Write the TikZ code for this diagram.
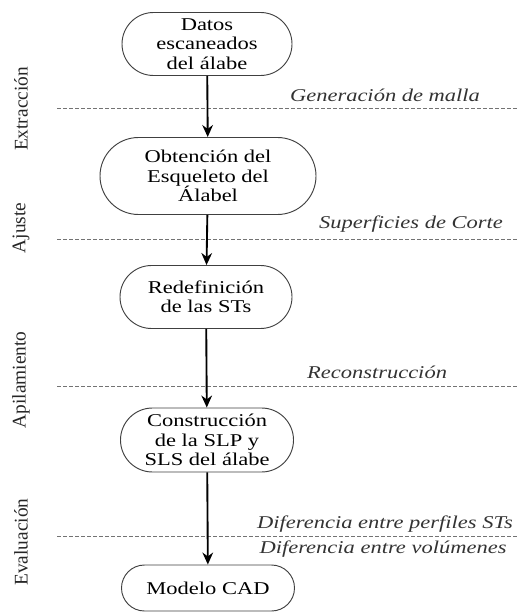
\documentclass[tikz,border=0pt]{standalone}
\usepackage{fontspec}
\setmainfont{Liberation Serif}[FakeStretch=1.25]
\newfontfamily\fasefont{Liberation Serif}
\usepackage{tikz}
\usetikzlibrary{shapes,arrows,positioning,calc,arrows.meta}

\tikzset{
        etapa/.style={rounded rectangle, draw=black!75, line width=0.7pt, fill=white,
                align=center, inner sep=0pt, font=\fontsize{13.5}{14.5}\selectfont},
        flecha/.style={-{Stealth[length=9pt,width=8pt]}, line width=1.4pt},
        separador/.style={dash pattern=on 3pt off 1.5pt, draw=black!55, line width=0.7pt},
        proceso/.style={font=\fontsize{13.5}{14.5}\selectfont\itshape, text=black!80},
        fase/.style={rotate=90, font=\fasefont\fontsize{14.5}{15}\selectfont, text=black!85}
}

\begin{document}
\begin{tikzpicture}[x=0.75pt, y=-0.75pt]
        \useasboundingbox (0,0) rectangle (520,616);

        \draw[separador] (57,108) -- (517,108);
        \draw[separador] (57,239) -- (517,239);
        \draw[separador] (57,386) -- (517,386);
        \draw[separador] (57,536) -- (517,536);

        \node[etapa, minimum width=170*0.75pt, minimum height=63*0.75pt] (datos) at (207,44) {Datos\\escaneados\\del álabe};
        \node[etapa, minimum width=216*0.75pt, minimum height=77*0.75pt] (esqueleto) at (208,176) {Obtención del\\Esqueleto del\\Álabel};
        \node[etapa, minimum width=172*0.75pt, minimum height=63*0.75pt] (redef) at (206,297) {Redefinición\\de las STs};
        \node[etapa, minimum width=173*0.75pt, minimum height=64*0.75pt] (slp) at (207,440) {Construcción\\de la SLP y\\SLS del álabe};
        \node[etapa, minimum width=173*0.75pt, minimum height=46*0.75pt] (cad) at (208,588) {Modelo CAD};

        \draw[flecha] (datos) -- (esqueleto);
        \draw[flecha] (esqueleto) -- (redef);
        \draw[flecha] (redef) -- (slp);
        \draw[flecha] (slp) -- (cad);

        \node[proceso] (malla) at (385,95) {Generación de malla};
        \node[proceso] (corte) at (411,224) {Superficies de Corte};
        \node[proceso] (recons) at (377,372) {Reconstrucción};
        \node[proceso] (perfiles) at (385,524) {Diferencia entre perfiles STs};
        \node[proceso] (volumenes) at (383,549) {Diferencia entre volúmenes};

        \node[fase] (extraccion) at (21,109) {Extracción};
        \node[fase] (ajuste) at (21,228) {Ajuste};
        \node[fase] (apilamiento) at (21,380) {Apilamiento};
        \node[fase] (evaluacion) at (21,542) {Evaluación};
\end{tikzpicture}
\end{document}
